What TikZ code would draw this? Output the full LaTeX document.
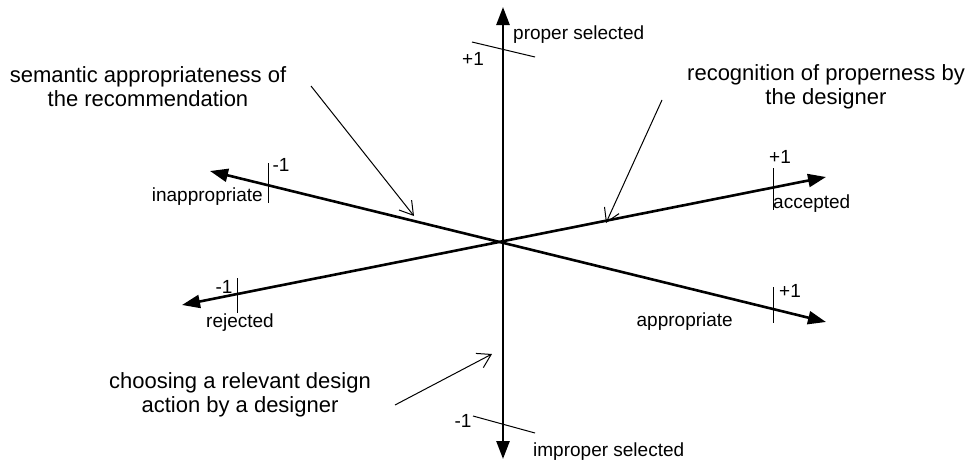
\documentclass[tikz,border=0pt]{standalone}
\usepackage{fontspec}
\setmainfont{Liberation Sans}
\usetikzlibrary{arrows.meta}
\begin{document}
\begin{tikzpicture}[x=1pt,y=-1pt,
  axis/.style={line width=2.6pt,{Triangle[length=18pt,width=13pt]}-{Triangle[length=18pt,width=13pt]}},
  tick/.style={line width=1pt},
  pointer/.style={line width=1pt,-{Straight Barb[length=13pt,width=16pt,line width=1pt]}},
  lbl/.style={inner sep=0pt,font=\fontsize{19}{23}\selectfont},
  note/.style={inner sep=0pt,align=center,font=\fontsize{22}{24}\selectfont}]
\useasboundingbox (0,0) rectangle (970,466);
% axes
\coordinate (T) at (503,7);
\coordinate (B) at (503,459);
\coordinate (A1) at (182,305);
\coordinate (A2) at (826,177);
\coordinate (P1) at (210,171);
\coordinate (P2) at (826,322);
\draw[axis] (B) -- (T);
\draw[axis] (A1) -- (A2);
\draw[axis] (P1) -- (P2);
% ticks
\coordinate (t1a) at (472,42); \coordinate (t1b) at (535,57);
\coordinate (t2a) at (473,416); \coordinate (t2b) at (535,433);
\coordinate (t3a) at (268,163); \coordinate (t3b) at (268,203);
\coordinate (t4a) at (237,278); \coordinate (t4b) at (237,313);
\coordinate (t5a) at (773,168); \coordinate (t5b) at (773,210);
\coordinate (t6a) at (773,287); \coordinate (t6b) at (773,323);
\draw[tick] (t1a) -- (t1b);
\draw[tick] (t2a) -- (t2b);
\draw[tick] (t3a) -- (t3b);
\draw[tick] (t4a) -- (t4b);
\draw[tick] (t5a) -- (t5b);
\draw[tick] (t6a) -- (t6b);
% labels
\node[lbl] (n1) at (473,59) {+1};
\node[lbl,anchor=west] (ps) at (513,35) {proper selected};
\node[lbl] (n2) at (463,421) {-1};
\node[lbl,anchor=west] (is) at (533,452) {improper selected};
\node[lbl] (n3) at (281,165) {-1};
\node[lbl,anchor=east] (inap) at (263,197) {inappropriate};
\node[lbl] (n4) at (224,287) {-1};
\node[lbl] (rej) at (240,323) {rejected};
\node[lbl] (n5) at (780,157) {+1};
\node[lbl,anchor=west] (acc) at (773,204) {accepted};
\node[lbl] (n6) at (790,291) {+1};
\node[lbl,anchor=east] (app) at (733,322) {appropriate};
% notes
\node[note] (sem) at (148,87) {semantic appropriateness of\\the recommendation};
\node[note] (rec) at (826,87) {recognition of properness by\\the designer};
\node[note] (cho) at (240,395) {choosing a relevant design\\action by a designer};
\coordinate (s0) at (311,86); \coordinate (s1) at (414,216);
\coordinate (r0) at (662,100); \coordinate (r1) at (606,223);
\coordinate (c0) at (395,405); \coordinate (c1) at (492,354);
\draw[pointer] (s0) -- (s1);
\draw[pointer] (r0) -- (r1);
\draw[pointer] (c0) -- (c1);
\end{tikzpicture}
\end{document}
